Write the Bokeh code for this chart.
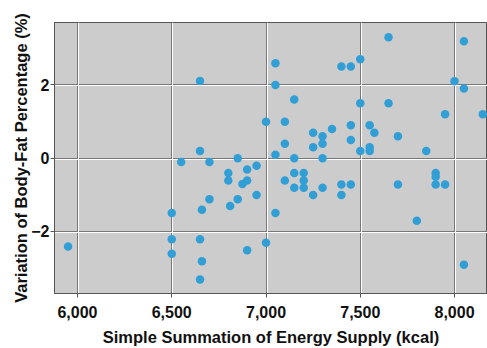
from bokeh.plotting import figure
from bokeh.models import NumeralTickFormatter, FixedTicker, Range1d, Grid
from bokeh.embed import file_html
from bokeh.resources import INLINE

energy_kcal = [5950, 6500, 6500, 6500, 6550, 6650, 6650, 6660, 6650, 6660,
               6650, 6700, 6700, 6800, 6800, 6810, 6850, 6850, 6875, 6900,
               6900, 6900, 6950, 6950, 7000, 7000, 7050, 7050, 7050, 7050,
               7100, 7100, 7100, 7150, 7150, 7150, 7150, 7200, 7200, 7200,
               7250, 7250, 7250, 7300, 7300, 7300, 7300, 7350, 7400, 7400,
               7400, 7450, 7450, 7450, 7450, 7500, 7500, 7500, 7550, 7550,
               7550, 7575, 7650, 7650, 7700, 7700, 7800, 7850, 7900, 7900,
               7900, 7950, 7950, 8000, 8050, 8050, 8050, 8150]
bodyfat_var = [-2.41, -1.50, -2.21, -2.61, -0.11, 2.10, 0.19, -1.41, -2.21, -2.81,
               -3.31, -0.11, -1.12, -0.41, -0.61, -1.31, -0.01, -1.12, -0.71, -0.31,
               -0.61, -2.51, -0.21, -1.01, 0.99, -2.31, 2.58, 1.99, 0.09, -1.50,
               0.99, 0.39, -0.61, 1.59, -0.01, -0.41, -0.81, -0.41, -0.61, -0.81,
               0.69, 0.29, -1.01, 0.59, 0.39, -0.01, -0.81, 0.79, 2.49, -0.72,
               -1.01, 2.49, 0.89, 0.49, -0.72, 2.69, 1.49, 0.19, 0.89, 0.29,
               0.19, 0.69, 3.29, 1.49, 0.59, -0.72, -1.71, 0.19, -0.41, -0.51,
               -0.72, 1.19, -0.72, 2.09, 3.18, 1.89, -2.91, 1.19]
x_ticks = [6000, 6500, 7000, 7500, 8000]
y_ticks = [-2, 0, 2]

x0, x1 = 5878, 8175
y0, y1 = -3.69, 3.69
W, H = 487, 348
ML, MR, MT, MB = 54, 0, 22, 55

p = figure(width=W, height=H, output_backend="svg", toolbar_location=None,
           x_range=Range1d(x0, x1), y_range=Range1d(y0, y1),
           min_border_left=ML, min_border_right=MR, min_border_top=MT, min_border_bottom=MB)
p.background_fill_color = "#cccccc"
p.border_fill_color = "white"
p.outline_line_color = "#555555"
p.outline_line_width = 1

# grid: dark line with a white highlight 1px right/below
p.xgrid.ticker = FixedTicker(ticks=x_ticks)
p.ygrid.ticker = FixedTicker(ticks=y_ticks)
for g in (p.xgrid[0], p.ygrid[0]):
    g.grid_line_color = "#777777"
    g.grid_line_width = 1
dx = (x1 - x0) / (W - ML - MR)
dy = (y1 - y0) / (H - MT - MB)
p.add_layout(Grid(dimension=0, ticker=FixedTicker(ticks=[t + dx for t in x_ticks]),
                  grid_line_color="white", grid_line_width=1))
p.add_layout(Grid(dimension=1, ticker=FixedTicker(ticks=[t - dy for t in y_ticks]),
                  grid_line_color="white", grid_line_width=1))

p.scatter(energy_kcal, bodyfat_var, size=8.5, color="#319fd6", line_color=None)

p.xaxis.ticker = FixedTicker(ticks=x_ticks)
p.yaxis.ticker = FixedTicker(ticks=y_ticks)
p.xaxis.formatter = NumeralTickFormatter(format="0,0")
p.xaxis.axis_label = "Simple Summation of Energy Supply (kcal)"
p.yaxis.axis_label = "Variation of Body-Fat Percentage (%)"
for ax in (p.xaxis[0], p.yaxis[0]):
    ax.axis_line_color = "#555555"
    ax.major_tick_line_color = "#555555"
    ax.major_tick_out = 4
    ax.major_tick_in = 0
    ax.minor_tick_line_color = None
    ax.major_label_text_font = "Liberation Sans"
    ax.major_label_text_font_style = "bold"
    ax.major_label_text_font_size = "16px"
    ax.major_label_text_color = "#111111"
    ax.axis_label_text_font = "Liberation Sans"
    ax.axis_label_text_font_style = "bold"
    ax.axis_label_text_font_size = "16.5px"
    ax.axis_label_text_color = "#111111"
p.yaxis.major_label_standoff = 1
p.yaxis.axis_label_standoff = -2
p.xaxis.major_label_standoff = 8
p.xaxis.axis_label_standoff = 7

open("out.html", "w").write(file_html(p, INLINE))
